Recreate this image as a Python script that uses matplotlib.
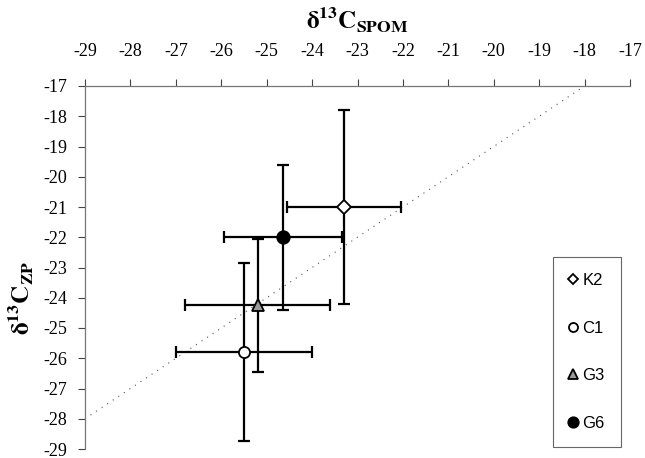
import matplotlib.pyplot as plt
from matplotlib.lines import Line2D

# data
sites = ['K2', 'C1', 'G3', 'G6']
spom = [-23.3, -25.5, -25.2, -24.65]
zp = [-21.0, -25.8, -24.25, -22.0]
spom_sd = [1.25, 1.5, 1.6, 1.3]
zp_sd = [3.2, 2.95, 2.2, 2.4]
ref_x = [-29, -18]
ref_y = [-28, -17]
ticks = list(range(-29, -16))

markers = {'K2': 'D', 'C1': 'o', 'G3': '^', 'G6': 'o'}
faces = {'K2': 'white', 'C1': 'white', 'G3': '#9a9a9a', 'G6': 'black'}
msizes = {'K2': 7, 'C1': 8, 'G3': 8, 'G6': 9}

plt.rcParams['font.family'] = ['Liberation Serif', 'DejaVu Serif']
plt.rcParams['mathtext.fontset'] = 'stix'
plt.rcParams['axes.unicode_minus'] = False

fig = plt.figure(figsize=(6.45, 4.58), dpi=100)
ax = fig.add_axes([85/645, 1 - 449/458, 545/645, 363/458])

ax.plot(ref_x, ref_y, color='#555555', lw=0.8, ls=(0, (1, 5)))

for i, s in enumerate(sites):
    ax.errorbar(spom[i], zp[i], xerr=spom_sd[i], yerr=zp_sd[i],
                fmt='none', ecolor='black', elinewidth=1.6, capsize=4.5,
                capthick=1.6, zorder=3)
    ax.plot(spom[i], zp[i], marker=markers[s], ms=msizes[s],
            mfc=faces[s], mec='black', mew=1.3, ls='none', zorder=4)

ax.set_xlim(-29, -17)
ax.set_ylim(-29, -17)
ax.set_xticks(ticks)
ax.set_yticks(ticks)
ax.xaxis.tick_top()
ax.tick_params(axis='both', direction='out', length=5, width=0.8,
               color='#444444', labelsize=13)
ax.tick_params(axis='x', pad=14)
ax.tick_params(axis='y', pad=8)
ax.spines[['bottom', 'right']].set_visible(False)
for sp in ['top', 'left']:
    ax.spines[sp].set_color('#777777')
    ax.spines[sp].set_linewidth(0.9)

fig.text(357/645, 1 - 29/458, r'$\mathbf{\delta^{13}C_{SPOM}}$',
         ha='center', va='baseline', fontsize=18)
fig.text(21/645, 1 - 298/458, r'$\mathbf{\delta^{13}C_{ZP}}$',
         ha='center', va='center', fontsize=18, rotation=90)

handles = [Line2D([], [], marker=markers[s], ms=msizes[s] - 1.5, mfc=faces[s],
                  mec='black', mew=1.3, ls='none') for s in sites]
leg = ax.legend(handles, sites, loc='center',
                bbox_to_anchor=(587/645, 1 - 352/458),
                bbox_transform=fig.transFigure,
                prop={'family': 'Liberation Sans', 'size': 12},
                handlelength=0.5, handletextpad=0.3, labelspacing=1.95,
                borderpad=1.0, fancybox=False, framealpha=1,
                edgecolor='#666666')
leg.get_frame().set_linewidth(0.8)

fig.savefig('out.png', dpi=100)
